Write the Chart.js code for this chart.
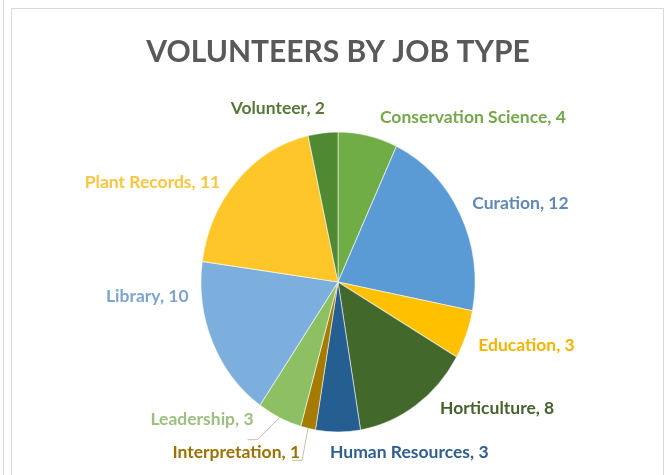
<!DOCTYPE html>
<html>
<head>
<meta charset="utf-8">
<script src="https://cdn.jsdelivr.net/npm/chart.js@4/dist/chart.umd.min.js"></script>
<style>
    body { margin: 0; background: #fff; }
    #wrap { position: relative; width: 667px; height: 475px; overflow: hidden; }
    #edge { position: absolute; left: 3px; top: 0; width: 1px; height: 475px; background: #d9d9d9; }
    #frame { position: absolute; left: 11px; top: 8px; width: 651px; height: 480px; border: 1px solid #d9d9d9; }
    canvas { position: absolute; left: 0; top: 0; }
</style>
</head>
<body>
<div id="wrap">
    <div id="edge"></div>
    <div id="frame"></div>
    <canvas id="chart" width="667" height="475"></canvas>
</div>
<script>
const jobTypes = [
    'Conservation Science',
    'Curation',
    'Education',
    'Horticulture',
    'Human Resources',
    'Interpretation',
    'Leadership',
    'Library',
    'Plant Records',
    'Volunteer'
];
const volunteers = [4, 12, 3, 8, 3, 1, 3, 10, 11, 2];

const sliceColors = [
    '#70ad47', '#5b9bd5', '#ffc000', '#43682b', '#255e91',
    '#a67c00', '#8dc063', '#7cafdd', '#ffc629', '#4f8a32'
];
const labelColors = [
    '#74a84b', '#5f87b7', '#f5b400', '#45622e', '#2f5f8f',
    '#9c7100', '#9cc081', '#7ea5cf', '#fcc53f', '#557a38'
];

// Excel draws this pie slightly taller than wide
const stretchY = 1.095;

// label nudges (dx, dy) from the default outside-end spot, plus leader elbows
const labelNudge = [
    [0, -18], [0, -11], [0, 11], [12, 3], [-20, 20],
    [4, 24], [-14, 2], [-12, -46], [-5, 2], [14, -25]
];
const leaders = { 5: [-6, 32], 6: [-22, 22] };

const stretchPlugin = {
    id: 'stretch',
    beforeDatasetsDraw(chart) {
        const arc = chart.getDatasetMeta(0).data[0];
        const ctx = chart.ctx;
        ctx.save();
        ctx.translate(arc.x, arc.y);
        ctx.scale(1, stretchY);
        ctx.translate(-arc.x, -arc.y);
    },
    afterDatasetsDraw(chart) {
        chart.ctx.restore();
    }
};

const labelPlugin = {
    id: 'sliceLabels',
    afterDraw(chart) {
        const ctx = chart.ctx;
        const meta = chart.getDatasetMeta(0);
        ctx.save();
        ctx.font = 'bold 17.5px Lato, "DejaVu Sans", sans-serif';
        ctx.textBaseline = 'middle';
        meta.data.forEach((arc, i) => {
            const mid = (arc.startAngle + arc.endAngle) / 2;
            const ex = arc.x + Math.cos(mid) * arc.outerRadius;
            const ey = arc.y + Math.sin(mid) * arc.outerRadius * stretchY;
            const right = Math.cos(mid) >= 0;
            const nx = labelNudge[i][0];
            const ny = labelNudge[i][1];
            const tx = ex + (right ? 12 : -12) + nx;
            const ty = ey + ny;

            if (leaders[i]) {
                const bx = ex + leaders[i][0];
                const by = ey + leaders[i][1];
                ctx.strokeStyle = '#c9bfa8';
                ctx.lineWidth = 1;
                ctx.beginPath();
                ctx.moveTo(bx - 10, by);
                ctx.lineTo(bx, by);
                ctx.lineTo(ex, ey);
                ctx.stroke();
            }

            ctx.fillStyle = labelColors[i];
            ctx.textAlign = right ? 'left' : 'right';
            ctx.fillText(jobTypes[i] + ', ' + volunteers[i], tx, ty);
        });
        ctx.restore();
    }
};

new Chart(document.getElementById('chart').getContext('2d'), {
    type: 'pie',
    data: {
        labels: jobTypes,
        datasets: [{
            data: volunteers,
            backgroundColor: sliceColors,
            borderColor: 'rgba(255,255,255,0.55)',
            borderWidth: 1
        }]
    },
    options: {
        responsive: false,
        animation: false,
        radius: 137,
        layout: {
            padding: { left: 20, right: 11, top: 34, bottom: 11 }
        },
        plugins: {
            legend: { display: false },
            tooltip: { enabled: false },
            title: {
                display: true,
                text: 'VOLUNTEERS BY JOB TYPE',
                color: '#595959',
                font: { family: 'Lato, "DejaVu Sans", sans-serif', size: 30, weight: 'bold', lineHeight: 1.2 },
                padding: { top: 0, bottom: 30 }
            }
        }
    },
    plugins: [stretchPlugin, labelPlugin]
});
</script>
</body>
</html>
